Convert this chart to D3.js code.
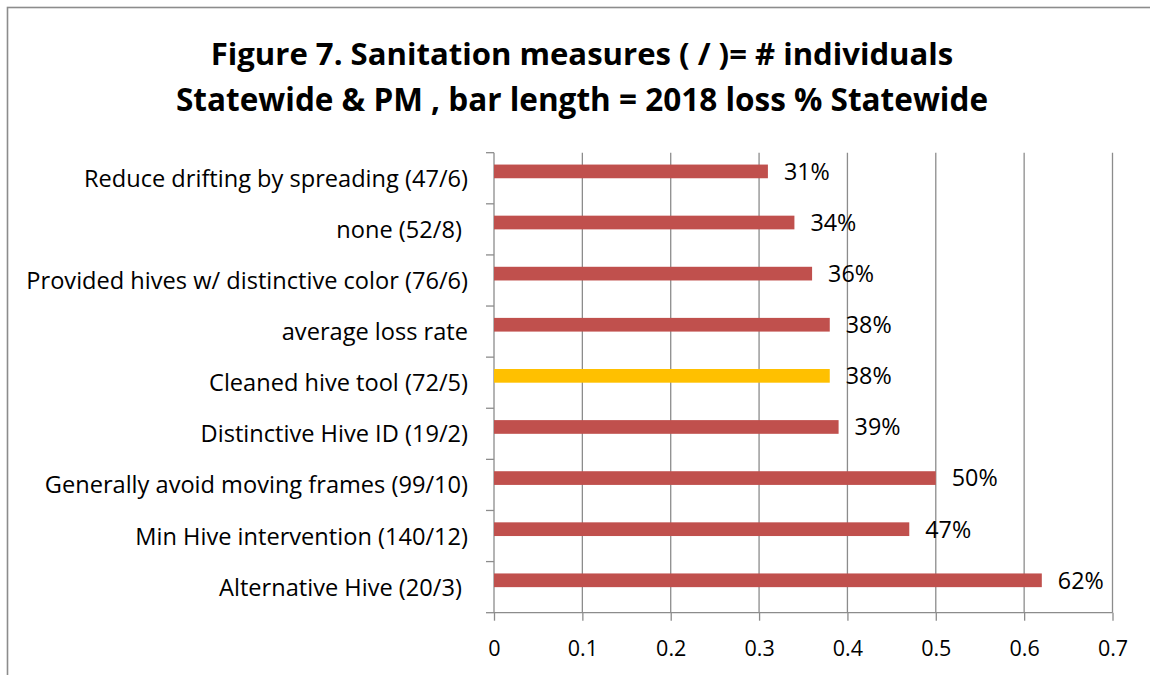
<!DOCTYPE html>
<html>
<head>
<meta charset="utf-8">
<script src="https://cdn.jsdelivr.net/npm/d3@7"></script>
<style>
  body { margin: 0; background: #fff; }
  .app svg { display: block; }
  .app svg text { font-family: "Open Sans", Lato, sans-serif; fill: #000; }
  .domain, .tick line { stroke: #8c8c8c; stroke-width: 1.3; }
  .grid-line { stroke: #8c8c8c; stroke-width: 1.3; }
</style>
</head>
<body>
<div class="app"></div>
<script>
'use strict'

// categories, top to bottom as drawn
var categories = [
  "Reduce drifting by spreading (47/6)",
  "none (52/8)\u00a0",
  "Provided hives w/ distinctive color (76/6)",
  "average loss rate",
  "Cleaned hive tool (72/5)",
  "Distinctive Hive ID (19/2)",
  "Generally avoid moving frames (99/10)",
  "Min Hive intervention (140/12)",
  "Alternative Hive (20/3)\u00a0"
];

// 2018 loss % statewide
var lossValues = [0.31, 0.34, 0.36, 0.38, 0.38, 0.39, 0.50, 0.47, 0.62];

var valueLabels = ["31%", "34%", "36%", "38%", "38%", "39%", "50%", "47%", "62%"];

var highlighted = ["Cleaned hive tool (72/5)"];

var xTicks = [0, 0.1, 0.2, 0.3, 0.4, 0.5, 0.6, 0.7];
var xTickLabels = ["0", "0.1", "0.2", "0.3", "0.4", "0.5", "0.6", "0.7"];

var titleLines = [
  "Figure 7. Sanitation measures ( / )= # individuals",
  "Statewide & PM , bar length = 2018 loss % Statewide"
];

var W = 1150, H = 675;
var plot = { left: 494, right: 1112.5, top: 152.7, bottom: 612.7 };

var svg = d3.select(".app").append("svg")
  .attr("width", W)
  .attr("height", H);

// outer frame (right/bottom edges fall outside the picture)
svg.append("rect")
  .attr("x", 7.5).attr("y", 7.5)
  .attr("width", 1200).attr("height", 700)
  .attr("fill", "#fff")
  .attr("stroke", "#8c8c8c")
  .attr("stroke-width", 1.6);

// title
svg.append("g").selectAll("text")
  .data(titleLines)
  .enter().append("text")
  .attr("x", 582)
  .attr("y", function(d, i) { return 64.5 + i * 46; })
  .attr("text-anchor", "middle")
  .style("font-size", function(d, i) { return i === 0 ? "31.1px" : "31.5px"; })
  .style("font-weight", "bold")
  .text(function(d) { return d; });

var x = d3.scaleLinear().domain([0, 0.7]).range([plot.left, plot.right]);
var y = d3.scaleBand().domain(categories).range([plot.top, plot.bottom]);

var barH = y.bandwidth() * 0.268;

// vertical grid lines
svg.append("g").selectAll("line")
  .data(xTicks.slice(1))
  .enter().append("line")
  .attr("class", "grid-line")
  .attr("x1", function(d) { return x(d); })
  .attr("x2", function(d) { return x(d); })
  .attr("y1", plot.top)
  .attr("y2", plot.bottom);

// x axis
var xAxis = d3.axisBottom(x)
  .tickValues(xTicks)
  .tickSize(8)
  .tickPadding(20)
  .tickFormat(function(d, i) { return xTickLabels[i]; });

var xg = svg.append("g")
  .attr("class", "x-axis")
  .attr("transform", "translate(0," + plot.bottom + ")")
  .call(xAxis);
xg.select(".domain").attr("d", "M" + plot.left + ",0H" + plot.right);
xg.selectAll(".tick text").style("font-size", "21.5px");

// y axis: labels at band centres, tick marks at band edges
var yAxis = d3.axisLeft(y).tickSize(0).tickPadding(26);
var yg = svg.append("g")
  .attr("class", "y-axis")
  .attr("transform", "translate(" + plot.left + ",0)")
  .call(yAxis);
yg.select(".domain").remove();
yg.selectAll(".tick text").style("font-size", "23.6px").attr("dy", "0.36em");

var edges = categories.map(function(c) { return y(c); }).concat([plot.bottom]);
var yLine = svg.append("g").attr("class", "y-line");
yLine.append("line")
  .attr("class", "domain")
  .attr("x1", plot.left).attr("x2", plot.left)
  .attr("y1", plot.top).attr("y2", plot.bottom);
yLine.selectAll("line.edge")
  .data(edges)
  .enter().append("line")
  .attr("class", "domain edge")
  .attr("x1", plot.left - 8).attr("x2", plot.left)
  .attr("y1", function(d) { return d; })
  .attr("y2", function(d) { return d; });

// bars (first series of a cluster, so they sit above the band centre)
svg.append("g").selectAll("rect")
  .data(categories)
  .enter().append("rect")
  .attr("x", plot.left)
  .attr("y", function(d) { return y(d) + y.bandwidth() / 2 - barH; })
  .attr("width", function(d, i) { return x(lossValues[i]) - plot.left; })
  .attr("height", barH)
  .attr("fill", function(d) { return highlighted.indexOf(d) >= 0 ? "#ffc000" : "#c0504d"; });

// value labels
svg.append("g").selectAll("text")
  .data(categories)
  .enter().append("text")
  .attr("x", function(d, i) { return x(lossValues[i]) + 16; })
  .attr("y", function(d) { return y(d) + y.bandwidth() / 2 - barH / 2; })
  .attr("dy", "0.36em")
  .style("font-size", "23.3px")
  .text(function(d, i) { return valueLabels[i]; });
</script>
</body>
</html>
